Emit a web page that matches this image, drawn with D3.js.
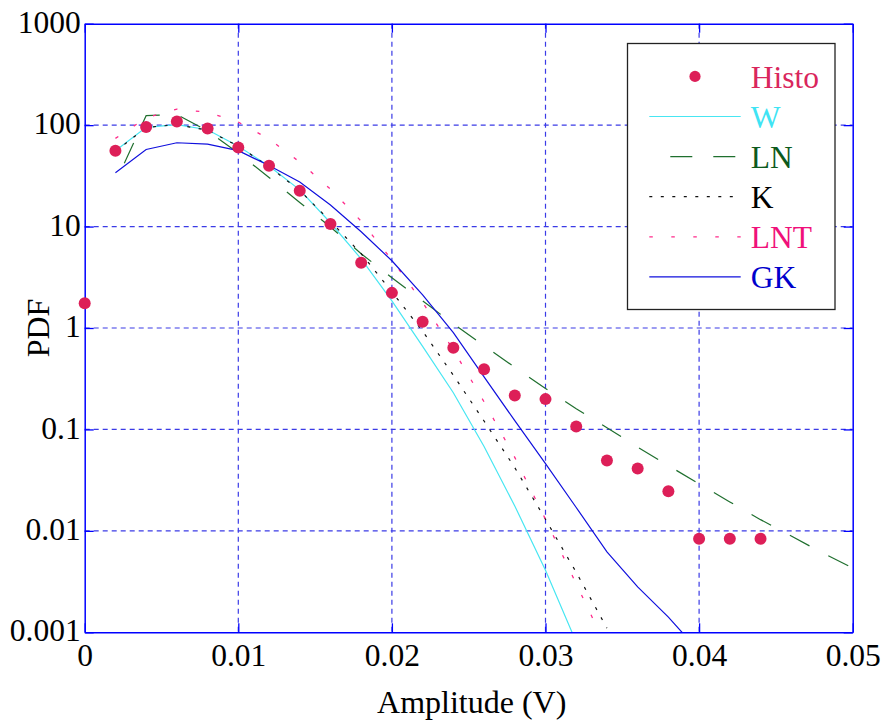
<!DOCTYPE html>
<html>
<head>
<meta charset="utf-8">
<script src="https://cdn.jsdelivr.net/npm/d3@7"></script>
<style>
  html, body { margin: 0; padding: 0; background: #fff; }
  svg { display: block; }
  text { font-family: "Liberation Serif", "Times New Roman", serif; }
</style>
</head>
<body>
<svg id="chart" width="884" height="722"></svg>
<script>
// ---------------- data ----------------
const histoX = [0, 0.002, 0.004, 0.006, 0.008, 0.010, 0.012, 0.014, 0.016, 0.018, 0.020,
                0.022, 0.024, 0.026, 0.028, 0.030, 0.032, 0.034, 0.036, 0.038, 0.040, 0.042, 0.044];
const histoY = [1.75, 56, 95.7, 108.7, 92.7, 60.2, 39.7, 22.5, 10.6, 4.4, 2.22,
                1.15, 0.64, 0.392, 0.216, 0.199, 0.107, 0.0494, 0.0412, 0.0246, 0.00834, 0.00834, 0.00834];

const wX = [0.002, 0.004, 0.006, 0.008, 0.010, 0.012, 0.014, 0.016, 0.018, 0.020, 0.022, 0.024, 0.026, 0.028, 0.030, 0.032];
const wY = [56, 95, 101, 90, 62, 39.5, 23, 10.9, 4.8, 1.85, 0.66, 0.23, 0.068, 0.0176, 0.0041, 0.0008];

const lnX = [0.002, 0.004, 0.006, 0.008, 0.010, 0.012, 0.014, 0.016, 0.018, 0.020, 0.022, 0.024, 0.026,
             0.028, 0.030, 0.032, 0.034, 0.036, 0.038, 0.040, 0.042, 0.044, 0.046, 0.048, 0.050];
const lnY = [27.2, 124, 127, 88, 53, 30.5, 17.3, 9.9, 5.4, 3.13, 1.85, 1.10, 0.67,
             0.41, 0.253, 0.16, 0.104, 0.067, 0.044, 0.029, 0.0193, 0.0129, 0.0089, 0.0061, 0.0043];

const kX = [0.002, 0.004, 0.006, 0.008, 0.010, 0.012, 0.014, 0.016, 0.018, 0.020, 0.022, 0.024, 0.026, 0.028, 0.030, 0.032, 0.034];
const kY = [55, 95, 101, 89, 62, 39, 22.7, 11.3, 5.4, 2.27, 0.93, 0.342, 0.121, 0.042, 0.013, 0.0039, 0.0011];

const lntX = [0.002, 0.004, 0.006, 0.008, 0.010, 0.012, 0.014, 0.016, 0.018, 0.020, 0.022, 0.024, 0.026, 0.028, 0.030, 0.032, 0.034];
const lntY = [74, 118, 144, 134, 107, 73, 43.3, 23.4, 11.3, 4.7, 1.79, 0.61, 0.187, 0.053, 0.013, 0.003, 0.0007];

const gkX = [0.002, 0.004, 0.006, 0.008, 0.010, 0.012, 0.014, 0.016, 0.018, 0.020,
             0.022, 0.024, 0.026, 0.028, 0.030, 0.032, 0.034, 0.036, 0.038, 0.040];
const gkY = [34, 57.5, 67, 65, 56, 40, 27.5, 16.3, 8.9, 4.6,
             2.12, 0.9, 0.33, 0.122, 0.046, 0.017, 0.0062, 0.0028, 0.00141, 0.00065];

const xTicks = [0, 0.01, 0.02, 0.03, 0.04, 0.05];
const xTickLabels = ["0", "0.01", "0.02", "0.03", "0.04", "0.05"];
const yTicks = [0.001, 0.01, 0.1, 1, 10, 100, 1000];
const yTickLabels = ["0.001", "0.01", "0.1", "1", "10", "100", "1000"];

const legendNames = ["Histo", "W", "LN", "K", "LNT", "GK"];

// ---------------- layout ----------------
const L = 84.7, R = 852.7, T = 23.7, B = 632.3;
const svg = d3.select("#chart");

const x = d3.scaleLinear().domain([0, 0.05]).range([L, R]);
const y = d3.scaleLog().domain([0.001, 1000]).range([B, T]);

const series = [
  { name: "W",   xs: wX,   ys: wY,   color: "#48e6f2", dash: null,        width: 1.2 },
  { name: "LN",  xs: lnX,  ys: lnY,  color: "#1f6f2e", dash: "22,21",     offset: 22, width: 1.2, fitEnd: true },
  { name: "K",   xs: kX,   ys: kY,   color: "#111111", dash: "3,8.5",     width: 1.2 },
  { name: "LNT", xs: lntX, ys: lntY, color: "#ff2a8a", dash: "3.5,18.5",  width: 1.3 },
  { name: "GK",  xs: gkX,  ys: gkY,  color: "#1010dd", dash: null,        width: 1.2 }
];
const textColors = { Histo: "#d9265c", W: "#3fe4f4", LN: "#0d5a1c", K: "#000000", LNT: "#f0107a", GK: "#0000cc" };
const histoColor = "#dd1f58";

// clip
svg.append("defs").append("clipPath").attr("id", "plotClip")
  .append("rect").attr("x", L).attr("y", T).attr("width", R - L).attr("height", B - T);

// grid
const grid = svg.append("g");
grid.selectAll("line.gx").data(xTicks.slice(1, -1)).join("line")
  .attr("x1", d => x(d)).attr("x2", d => x(d)).attr("y1", T).attr("y2", B)
  .attr("stroke", "#3b3be6").attr("stroke-width", 1.2).attr("stroke-dasharray", "5,4");
grid.selectAll("line.gy").data(yTicks.slice(1, -1)).join("line")
  .attr("y1", d => y(d)).attr("y2", d => y(d)).attr("x1", L).attr("x2", R)
  .attr("stroke", "#3b3be6").attr("stroke-width", 1.2).attr("stroke-dasharray", "5,4");

// lines
const lineGen = d3.line().x(d => x(d[0])).y(d => y(d[1]));
const lines = svg.append("g").attr("clip-path", "url(#plotClip)");
series.forEach(s => {
  const pts = s.xs.map((v, i) => [v, s.ys[i]]);
  const p = lines.append("path").datum(pts)
    .attr("d", lineGen).attr("fill", "none")
    .attr("stroke", s.color).attr("stroke-width", s.width);
  if (s.fitEnd) {
    // stretch the dash period slightly so the last dash ends close to the path end
    const len = p.node().getTotalLength();
    const n = Math.round((len - 5) / 43);
    const per = (len - 5) / n;
    const d = per * 22 / 43;
    p.attr("stroke-dasharray", `${d},${per - d}`).attr("stroke-dashoffset", d);
  } else {
    if (s.dash) p.attr("stroke-dasharray", s.dash);
    if (s.offset) p.attr("stroke-dashoffset", s.offset);
  }
});

// axes (frame + inward ticks) via d3 axes
const tickLen = 9;
const axB = d3.axisBottom(x).tickValues(xTicks).tickFormat((d, i) => xTickLabels[i]).tickSizeInner(-tickLen).tickSizeOuter(0).tickPadding(16);
const axT = d3.axisTop(x).tickValues(xTicks).tickFormat("").tickSizeInner(-tickLen).tickSizeOuter(0);
const axL = d3.axisLeft(y).tickValues(yTicks).tickFormat((d, i) => yTickLabels[i]).tickSizeInner(-tickLen).tickSizeOuter(0).tickPadding(4);
const axRt = d3.axisRight(y).tickValues(yTicks).tickFormat("").tickSizeInner(-tickLen).tickSizeOuter(0);

function styleAxis(g) {
  g.select(".domain").attr("stroke", "#0000ff").attr("stroke-width", 1.5);
  g.selectAll(".tick line").attr("stroke", "#0000ff").attr("stroke-width", 1.3);
  g.selectAll(".tick text").attr("fill", "#000").style("font-size", "31.5px")
    .style("font-family", '"Liberation Serif", "Times New Roman", serif');
}
const gB = svg.append("g").attr("transform", `translate(0,${B})`).call(axB).call(styleAxis);
gB.selectAll(".tick text").attr("dy", "0.71em").attr("y", 11);
svg.append("g").attr("transform", `translate(0,${T})`).call(axT).call(styleAxis);
const gL = svg.append("g").attr("transform", `translate(${L},0)`).call(axL).call(styleAxis);
gL.selectAll(".tick text").attr("dy", null).attr("y", 8.6);
svg.append("g").attr("transform", `translate(${R},0)`).call(axRt).call(styleAxis);

// histogram points
svg.append("g").selectAll("circle").data(histoX.map((v, i) => [v, histoY[i]])).join("circle")
  .attr("cx", d => x(d[0])).attr("cy", d => y(d[1])).attr("r", 6)
  .attr("fill", histoColor);

// axis titles
svg.append("text").attr("x", (L + R) / 2 + 3).attr("y", 713)
  .attr("text-anchor", "middle").style("font-size", "32px").attr("fill", "#000")
  .text("Amplitude (V)");
svg.append("text").attr("transform", `translate(49,${(T + B) / 2}) rotate(-90)`)
  .attr("text-anchor", "middle").style("font-size", "32px").attr("fill", "#000")
  .text("PDF");

// legend
const lg = svg.append("g");
lg.append("rect").attr("x", 627.5).attr("y", 43.5).attr("width", 207.5).attr("height", 266)
  .attr("fill", "#fff").attr("stroke", "#222").attr("stroke-width", 1.3);
const lx0 = 649.3, lx1 = 740.7, tx = 750.7;
const baseY0 = 87.7, step = 40.1;
legendNames.forEach((name, i) => {
  const by = baseY0 + i * step;
  const cy = by - 11.3;
  if (name === "Histo") {
    lg.append("circle").attr("cx", 695).attr("cy", cy).attr("r", 5.6).attr("fill", histoColor);
  } else {
    const s = series.find(q => q.name === name);
    const ln = lg.append("line").attr("x1", lx0).attr("x2", lx1).attr("y1", cy).attr("y2", cy)
      .attr("stroke", s.color).attr("stroke-width", s.width);
    if (s.dash) ln.attr("stroke-dasharray", s.dash);
    if (s.offset) ln.attr("stroke-dashoffset", s.offset);
  }
  lg.append("text").attr("x", tx).attr("y", by).style("font-size", "31.5px")
    .attr("fill", textColors[name]).text(name);
});
</script>
</body>
</html>
